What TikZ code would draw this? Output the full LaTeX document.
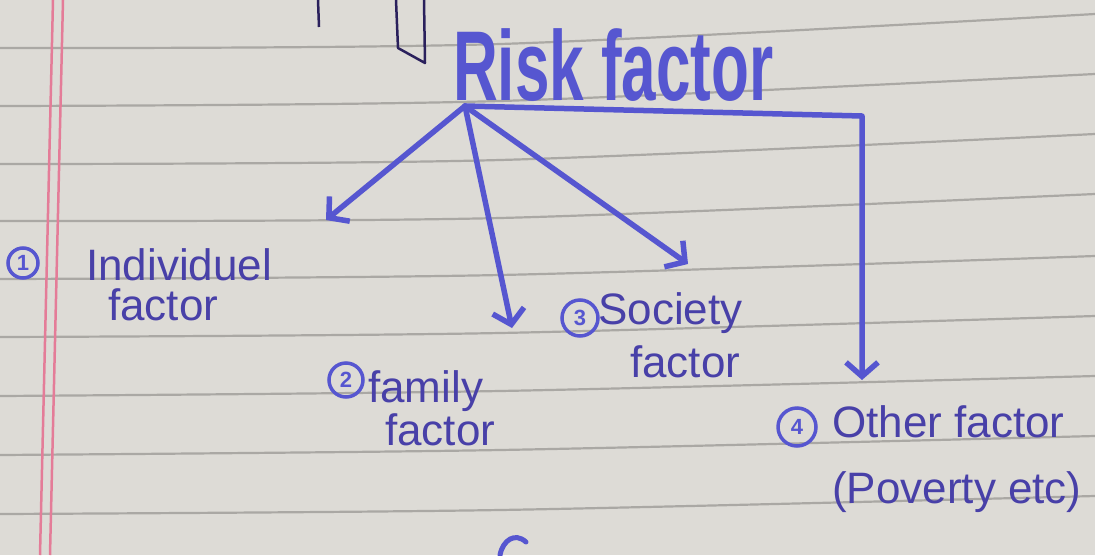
\documentclass[tikz,border=0pt]{standalone}
\usepackage{fontspec}
\setmainfont{Liberation Sans}
\usetikzlibrary{arrows.meta}
\definecolor{paper}{RGB}{221,219,214}
\definecolor{ruleclr}{RGB}{170,168,164}
\definecolor{marginclr}{RGB}{228,124,152}
\definecolor{marker}{RGB}{86,86,208}
\definecolor{pen}{RGB}{72,64,168}
\definecolor{darkpen}{RGB}{42,32,92}
\begin{document}
\begin{tikzpicture}[x=1pt,y=-1pt,
  ruleline/.style={ruleclr,line width=2.2pt},
  inkline/.style={marker,line width=5.5pt,line cap=round,line join=round},
  arr/.style={inkline,-{Straight Barb[length=14pt,width=32pt]}},
  hand/.style={text=pen,inner sep=0pt,align=left,anchor=base west},
  num/.style={circle,draw=marker,line width=3.5pt,text=marker,inner sep=0pt,
    font=\fontsize{22}{22}\selectfont\bfseries},
]
% paper
\useasboundingbox (0,0) rectangle (1095,555);
\fill[paper] (0,0) rectangle (1095,555);
% ruled lines
\foreach \a/\b/\c in {48/44/14,106/101/74,164/160/134,221/218/194,279/275/256,337/333/316,396/391/376,455/450/436,514/510/496}
  \draw[ruleline] plot[smooth] coordinates {(0,\a) (500,\b) (1095,\c)};
% margin lines
\draw[marginclr,line width=2.5pt] (53,0) -- (40,555);
\draw[marginclr,line width=2.5pt] (63,0) -- (50,555);
% stray pen marks at the top and bottom
\draw[darkpen,line width=2.5pt] (318,0) -- (319,27);
\draw[darkpen,line width=2.5pt,line join=round] (396,0) -- (398,48) -- (425,63) -- (424,0);
\draw[marker,line width=5pt,line cap=round] (500,555) .. controls (503,540) and (515,532) .. (526,542);

% title
\node[anchor=base west,inner sep=0pt,text=marker,font=\fontsize{62}{62}\selectfont\bfseries] (risk) at (453,100) {\scalebox{1}[1.6]{Risk factor}};
\coordinate (hub) at (465,106);
\coordinate (tip1) at (326,220);
\coordinate (tip2) at (512,328);
\coordinate (tip3) at (688,264);
\coordinate (corner) at (862,116);
\coordinate (tip4) at (862,380);

% connectors
\draw[arr] (hub) -- (tip1);
\draw[arr] (hub) -- (tip2);
\draw[arr] (hub) -- (tip3);
\draw[arr] (hub) -- (corner) -- (tip4);

% labels (base anchor = baseline of the last line)
\node[num,minimum size=30pt] (n1) at (23,263) {1};
\node[hand,font=\fontsize{44}{40}\selectfont] (ind) at (86,320) {Individuel\\\hspace*{22pt}factor};

\node[num,minimum size=34pt] (n2) at (346,380) {2};
\node[hand,font=\fontsize{44}{43}\selectfont] (fam) at (368,445) {family\\\hspace*{17pt}factor};

\node[num,minimum size=36pt] (n3) at (580,318) {3};
\node[hand,font=\fontsize{44}{53}\selectfont] (soc) at (598,377) {Society\\\hspace*{32pt}factor};

\node[num,minimum size=38pt] (n4) at (797,427) {4};
\node[hand,font=\fontsize{44}{66}\selectfont] (oth) at (832,503) {Other factor\\(Poverty etc)};
\end{tikzpicture}
\end{document}
